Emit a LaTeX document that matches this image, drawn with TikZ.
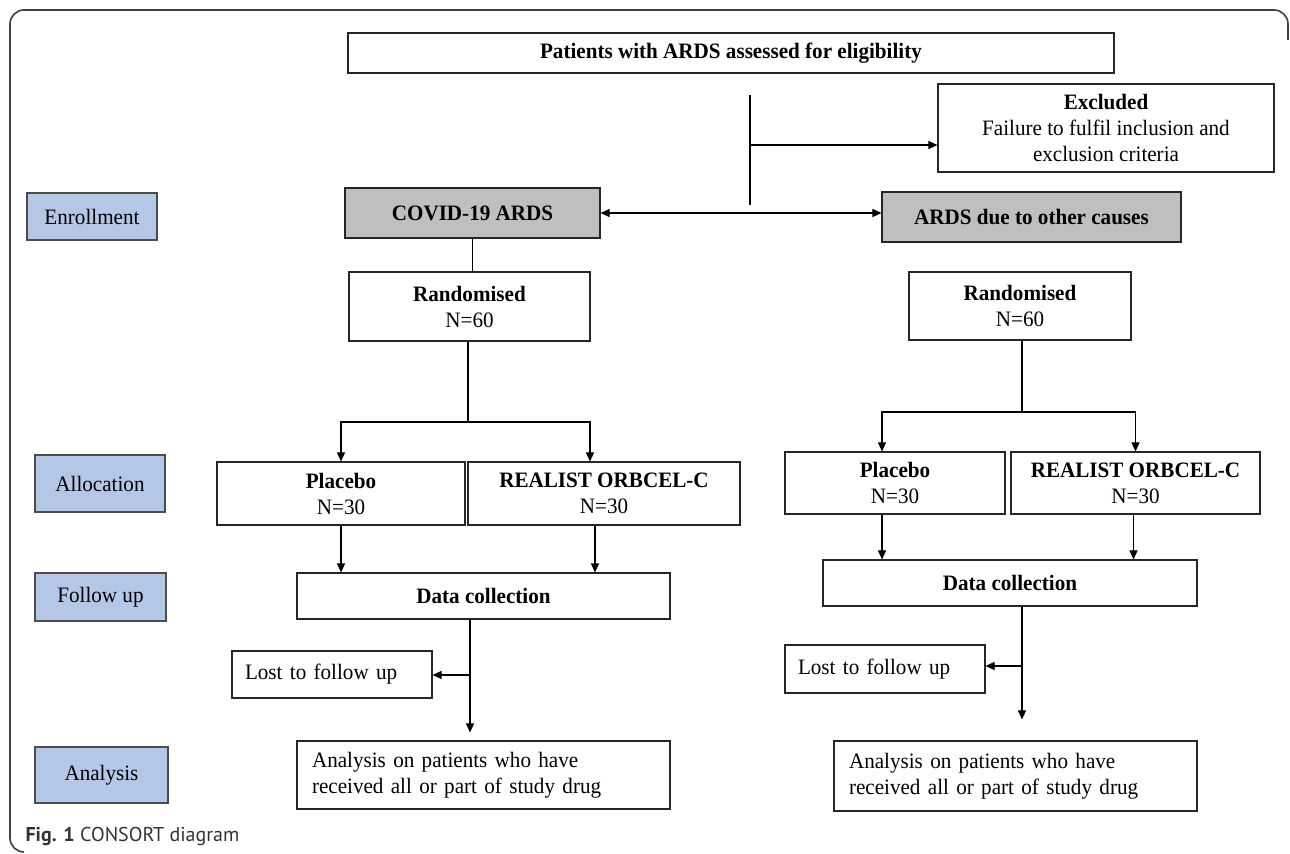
\documentclass[tikz,border=0pt]{standalone}
\usepackage{fontspec}
\setmainfont{Liberation Serif}[FakeStretch=0.96]
\newfontfamily\capfont{PT Sans}
\usepackage{xcolor}
\usepackage{tikz}
\usetikzlibrary{arrows.meta}

\definecolor{stageblue}{HTML}{B4C7E7}
\definecolor{armgray}{HTML}{BFBFBF}

\begin{document}
\begin{tikzpicture}[x=0.5pt, y=-0.5pt, line width=0.55pt,
    every node/.style={font=\fontsize{11}{13}\selectfont},
    box/.style={draw=black!85, inner sep=0pt, align=center},
    stage/.style={box, fill=stageblue, draw=black!70},
    arm/.style={box, fill=armgray},
    arr/.style={-{Triangle[length=4.5pt,width=4pt]}}]
    % Page: 1290x854 px, one unit = 0.5pt
    \useasboundingbox (0,0) rectangle (1290,854);

    % Frame
    \draw[black!75, line width=0.8pt, rounded corners=7pt]
        (24,852) -- (10,852) -- (10,10) -- (1288,10) -- (1288,40);

    % Stage labels (left column)
    \node[stage, minimum width=65pt, minimum height=23.5pt] (enrol) at (92,216.5) {Enrollment};
    \node[stage, minimum width=65pt, minimum height=28.5pt] (alloc) at (100,483.5) {Allocation};
    \node[stage, minimum width=65.5pt, minimum height=24pt] (follow) at (100.5,597) {Follow up};
    \node[stage, minimum width=66.5pt, minimum height=28pt] (anal) at (101.5,775) {Analysis};

    % Eligibility and exclusion
    \node[box, minimum width=383pt, minimum height=20pt] (top) at (731,53)
        {\textbf{Patients with ARDS assessed for eligibility}};
    \node[box, minimum width=168pt, minimum height=44pt] (excl) at (1106,128)
        {\textbf{Excluded}\\Failure to fulfil inclusion and\\exclusion criteria};

    % Two arms of the study
    \node[arm, minimum width=127.5pt, minimum height=25pt] (covid) at (472.5,213) {\textbf{COVID-19 ARDS}};
    \node[arm, minimum width=149.5pt, minimum height=25pt] (other) at (1031.5,217) {\textbf{ARDS due to other causes}};

    % COVID-19 side
    \node[box, minimum width=120.5pt, minimum height=34.5pt] (randL) at (469.5,306.5) {\textbf{Randomised}\\N=60};
    \node[box, minimum width=124pt, minimum height=31.5pt] (plaL) at (341,493.5) {\textbf{Placebo}\\N=30};
    \node[box, minimum width=136pt, minimum height=31.5pt] (realL) at (604,493.5) {\textbf{REALIST ORBCEL-C}\\N=30};
    \node[box, minimum width=186.5pt, minimum height=23pt] (dataL) at (483.5,596) {\textbf{Data collection}};
    \node[box, align=left, text width=87pt, inner xsep=6.5pt, minimum height=23.5pt] (lostL) at (332,674.5) {Lost to follow up};
    \node[box, align=left, text width=171.5pt, inner xsep=7.5pt, minimum height=34pt] (anaL) at (483.5,775)
        {Analysis on patients who have\\received all or part of study drug};

    % Other causes side
    \node[box, minimum width=111pt, minimum height=34pt] (randR) at (1020,306) {\textbf{Randomised}\\N=60};
    \node[box, minimum width=110pt, minimum height=31pt] (plaR) at (895,483) {\textbf{Placebo}\\N=30};
    \node[box, minimum width=124.5pt, minimum height=31pt] (realR) at (1135.5,483) {\textbf{REALIST ORBCEL-C}\\N=30};
    \node[box, minimum width=187pt, minimum height=23pt] (dataR) at (1010,583) {\textbf{Data collection}};
    \node[box, align=left, text width=87pt, inner xsep=6.5pt, minimum height=24pt] (lostR) at (885,669) {Lost to follow up};
    \node[box, align=left, text width=166.5pt, inner xsep=7.5pt, minimum height=35pt] (anaR) at (1015.5,776)
        {Analysis on patients who have\\received all or part of study drug};

    % Caption
    \node[anchor=west, inner sep=0pt, text=black!80, font=\capfont\fontsize{10}{12}\selectfont] (cap) at (25,836)
        {\textbf{Fig. 1} CONSORT diagram};

    % Connectors at the top
    \coordinate (ftop) at (750,95);
    \coordinate (fork) at (750,145);
    \coordinate (fbot) at (750,205);
    \draw (ftop) -- (fbot);
    \draw[arr] (fork) -- (fork -| excl.west);
    \draw[{Triangle[length=4.5pt,width=4pt]}-{Triangle[length=4.5pt,width=4pt]}]
        (covid.east) -- (covid.east -| other.west);

    % COVID-19 connectors
    \coordinate (splitL) at (468,422);
    \coordinate (dropL) at (470,675);
    \draw (covid.south) -- (covid.south |- randL.north);
    \draw (randL.south -| splitL) -- (splitL);
    \draw[arr] (splitL) -| (plaL.north);
    \draw[arr] (splitL) -| ([xshift=-7pt]realL.north);
    \draw[arr] (plaL.south) -- (plaL.south |- dataL.north);
    \draw[arr] ([xshift=-4.5pt]realL.south) -- ([xshift=-4.5pt]realL.south |- dataL.north);
    \draw[arr, shorten >=4pt] (dataL.south -| dropL) -- (anaL.north -| dropL);
    \draw[arr] (dropL) -- (dropL -| lostL.east);

    % Other causes connectors
    \coordinate (splitR) at (1022,412);
    \coordinate (dropR) at (1022,666);
    \draw (randR.south -| splitR) -- (splitR);
    \draw[arr] (splitR) -| ([xshift=-6.5pt]plaR.north);
    \draw[arr] (splitR) -| (realR.north);
    \draw[arr] ([xshift=-6.5pt]plaR.south) -- ([xshift=-6.5pt]plaR.south |- dataR.north);
    \draw[arr] ([xshift=-1pt]realR.south) -- ([xshift=-1pt]realR.south |- dataR.north);
    \draw[arr, shorten >=10.5pt] (dataR.south -| dropR) -- (anaR.north -| dropR);
    \draw[arr] (dropR) -- (dropR -| lostR.east);
\end{tikzpicture}
\end{document}
